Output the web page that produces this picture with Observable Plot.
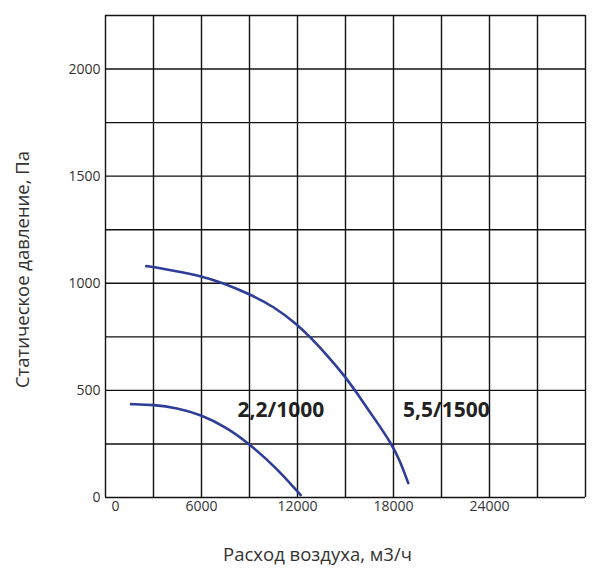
<!DOCTYPE html>
<html>
<head>
<meta charset="utf-8">
<script src="https://cdn.jsdelivr.net/npm/d3@7"></script>
<script src="https://cdn.jsdelivr.net/npm/@observablehq/plot@0.6"></script>
<style>
  html, body { margin: 0; padding: 0; background: #fff; }
  #chart svg { display: block; }
</style>
</head>
<body>
<div id="chart"></div>
<script>
// Grid lines
const xGrid = [0, 3000, 6000, 9000, 12000, 15000, 18000, 21000, 24000, 27000, 30000];
const yGrid = [0, 250, 500, 750, 1000, 1250, 1500, 1750, 2000, 2250];
// Tick labels
const xTicks = [0, 6000, 12000, 18000, 24000];
const yTicks = [0, 500, 1000, 1500, 2000];

// Curve 2,2/1000
const flow22 = [1600, 3000, 4450, 6000, 7575, 9000, 10700, 12200];
const pres22 = [436, 433, 418, 386, 327, 250, 137, 11];
// Curve 5,5/1500
const flow55 = [2550, 3000, 6000, 7363, 9000, 10500, 11950, 12780, 14000, 15000, 15594, 16800, 17888, 18406, 18922];
const pres55 = [1080, 1077, 1035, 1000, 950, 892, 810, 750, 652, 562, 500, 370, 250, 171, 67];

const curveLabels = ["2,2/1000", "5,5/1500"];
const labelX = [8250, 18600];
const labelY = [405, 405];

const c22 = flow22.map((x, i) => ({x, y: pres22[i]}));
const c55 = flow55.map((x, i) => ({x, y: pres55[i]}));
const labels = curveLabels.map((t, i) => ({t, x: labelX[i], y: labelY[i]}));

const font = "'Open Sans', 'Noto Sans', sans-serif";

const chart = Plot.plot({
  width: 592,
  height: 570,
  marginLeft: 105,
  marginRight: 7,
  marginTop: 15,
  marginBottom: 73,
  style: {fontFamily: font, background: "#fff"},
  x: {domain: [0, 30000], axis: null},
  y: {domain: [0, 2250], axis: null},
  marks: [
    Plot.text(labels, {x: "x", y: "y", text: "t", fontSize: 21, fontWeight: "bold", fill: "#222", textAnchor: "start", lineAnchor: "middle"}),
    Plot.ruleX(xGrid, {stroke: "#111", strokeWidth: 1.4}),
    Plot.ruleY(yGrid, {stroke: "#111", strokeWidth: 1.4}),
    Plot.line(c22, {x: "x", y: "y", curve: "basis", stroke: "#2e3d98", strokeWidth: 2.6}),
    Plot.line(c55, {x: "x", y: "y", curve: "basis", stroke: "#2e3d98", strokeWidth: 2.6}),
    Plot.text(xTicks.filter(d => d !== 0), {x: d => d, text: d => String(d), frameAnchor: "bottom", dy: 9, textAnchor: "middle", lineAnchor: "middle", fontSize: 14, fill: "#333"}),
    Plot.text(xTicks.filter(d => d === 0), {x: d => d, text: d => String(d), frameAnchor: "bottom", dy: 9, dx: 10, textAnchor: "middle", lineAnchor: "middle", fontSize: 14, fill: "#333"}),
    Plot.text(yTicks, {y: d => d, text: d => String(d), frameAnchor: "left", dx: -5, textAnchor: "end", lineAnchor: "middle", fontSize: 14, fill: "#333"}),
    Plot.text(["Статическое давление, Па"], {frameAnchor: "left", dx: -82, dy: 13, rotate: -90, textAnchor: "middle", lineAnchor: "middle", fontSize: 18.5, fill: "#333"}),
    Plot.text(["Расход воздуха, м3/ч"], {frameAnchor: "bottom", dx: -28, dy: 58, textAnchor: "middle", lineAnchor: "middle", fontSize: 18.5, fill: "#333"})
  ]
});
document.getElementById("chart").appendChild(chart);
</script>
</body>
</html>
